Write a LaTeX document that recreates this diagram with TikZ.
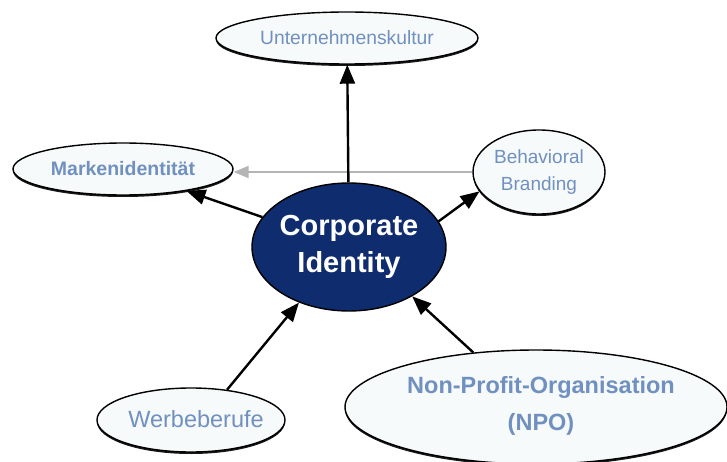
\documentclass[tikz,border=0pt]{standalone}
\usepackage{fontspec}
\setmainfont{Liberation Sans}
\usetikzlibrary{shapes.geometric,arrows.meta,shadows}
\definecolor{labelblue}{HTML}{7090C0}
\definecolor{cinavy}{HTML}{0E2C6E}
\definecolor{bubblefill}{HTML}{F7FAFA}
\definecolor{linkgray}{HTML}{B4B4B4}
\begin{document}
\begin{tikzpicture}[x=1pt,y=-1pt,
  bubble/.style={ellipse,draw=black,line width=1.4pt,fill=bubblefill,inner sep=0pt,
    drop shadow={shadow xshift=0pt,shadow yshift=-2pt,opacity=0.9,fill=black}},
  core/.style={ellipse,draw=black,line width=1.4pt,fill=cinavy,inner sep=0pt},
  caption/.style={text=labelblue,align=center,inner sep=0pt},
  link/.style={line width=2.4pt,draw=black,-{Triangle[length=19pt,width=15pt]}},
  softlink/.style={line width=2pt,draw=linkgray,-{Triangle[length=15pt,width=12pt]}}]
\useasboundingbox (0,0) rectangle (727,462);
\fill[white] (0,0) rectangle (727,462);

% bubbles
\node[bubble,minimum width=262pt,minimum height=52pt] (uk) at (347,38) {};
\node[bubble,minimum width=220pt,minimum height=52pt] (mk) at (123,169) {};
\node[bubble,minimum width=132pt,minimum height=84pt] (bb) at (539,172) {};
\node[bubble,minimum width=188pt,minimum height=64pt] (wb) at (191,420) {};
\node[bubble,minimum width=382pt,minimum height=114pt] (npo) at (536,407) {};
\node[core,minimum width=194pt,minimum height=128pt] (ci) at (349,247) {};

% captions
\node[caption,font=\fontsize{19.3}{23}\selectfont] (ukt) at (uk.center) {Unternehmenskultur};
\node[caption,font=\bfseries\fontsize{19.5}{23}\selectfont] (mkt) at (mk.center) {Markenidentität};
\node[caption,font=\fontsize{19}{27}\selectfont] (bbt) at (bb.center) {Behavioral\\Branding};
\node[caption,font=\fontsize{23.5}{28}\selectfont] (wbt) at (196,419) {Werbeberufe};
\node[caption,font=\bfseries\fontsize{23.5}{37}\selectfont] (npot) at (541,406) {Non-Profit-Organisation\\(NPO)};
\node[align=center,text=white,inner sep=0pt,font=\bfseries\fontsize{29}{37}\selectfont] (cit) at (ci.center) {Corporate\\Identity};

% connectors
\draw[softlink] (bb.west) -- (bb.west -| mk.east);
\draw[link] (ci) -- (uk);
\draw[link] (ci) -- (mk);
\draw[link] (ci.16) -- (bb.198);
\draw[link] (wb.40) -- (ci.228);
\draw[link] (npo.139.5) -- (ci.322);
\end{tikzpicture}
\end{document}
